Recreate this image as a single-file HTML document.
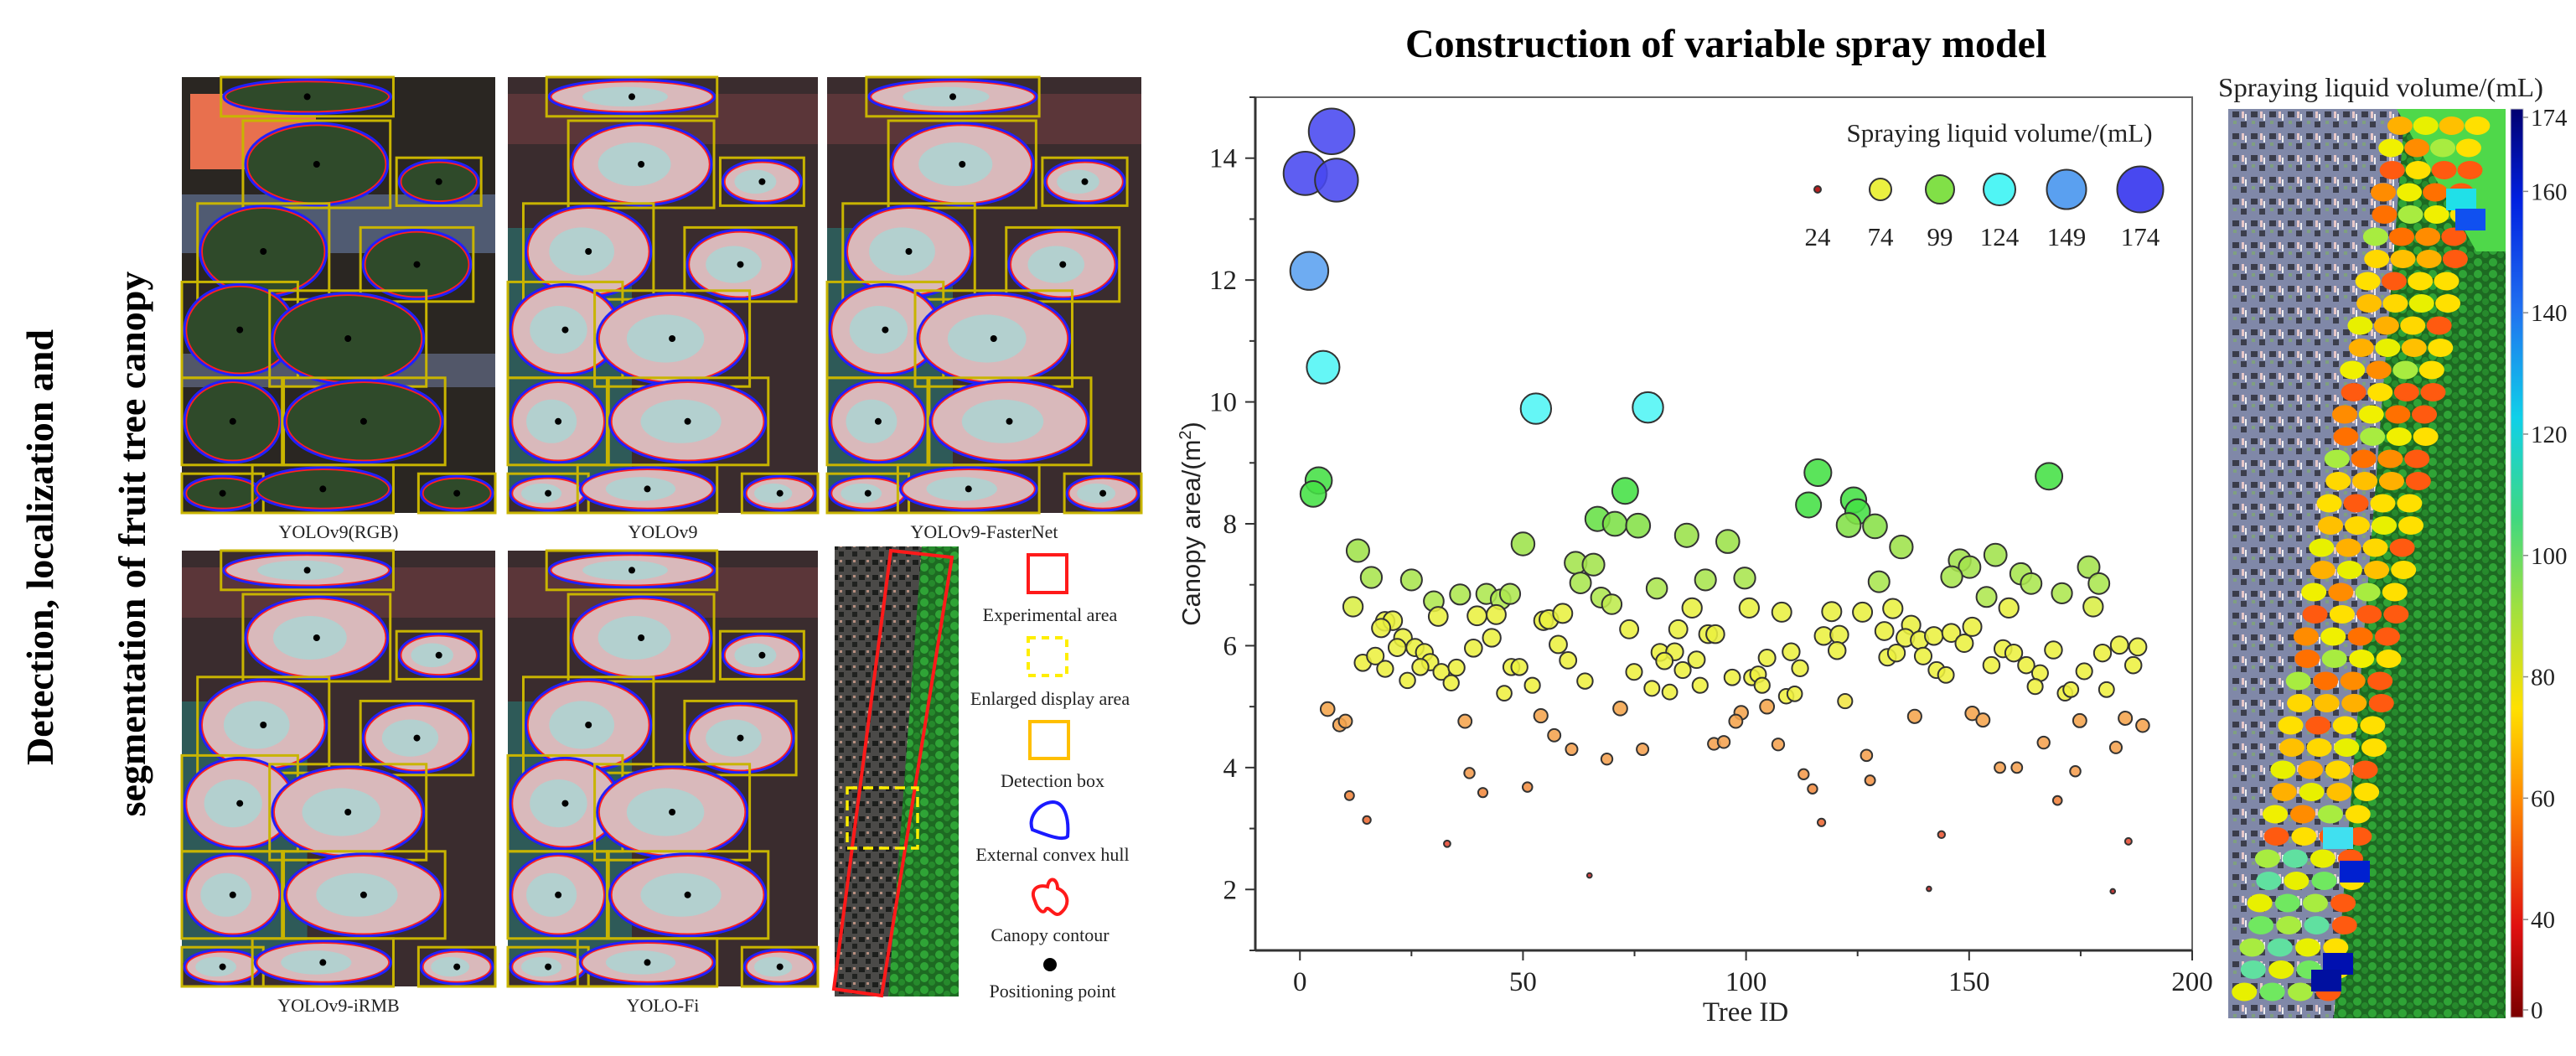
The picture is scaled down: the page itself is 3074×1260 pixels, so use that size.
<!DOCTYPE html>
<html><head><meta charset="utf-8">
<style>
html,body{margin:0;padding:0;background:#fff;}
svg{display:block;font-family:"Liberation Serif",serif;}
</style></head>
<body>
<svg id="fig" width="3074" height="1260" viewBox="0 0 3074 1260" xmlns="http://www.w3.org/2000/svg">
<defs>
<linearGradient id="cbar" x1="0" y1="1" x2="0" y2="0">
<stop offset="0" stop-color="#7a0000"/><stop offset="0.1" stop-color="#e01010"/><stop offset="0.24" stop-color="#ff8a00"/><stop offset="0.34" stop-color="#ffe000"/><stop offset="0.45" stop-color="#a0e040"/><stop offset="0.55" stop-color="#40d880"/><stop offset="0.66" stop-color="#10d0e8"/><stop offset="0.78" stop-color="#2070f0"/><stop offset="0.9" stop-color="#0020e0"/><stop offset="1" stop-color="#000070"/>
</linearGradient>
<pattern id="speck" width="22" height="26" patternUnits="userSpaceOnUse">
<rect width="22" height="26" fill="#8088a8"/><rect x="2" y="3" width="8" height="7" fill="#3a3c4a"/><rect x="12" y="15" width="7" height="7" fill="#3c3e4c"/><rect x="13" y="3" width="3" height="8" fill="#e8c8c8"/><rect x="3" y="14" width="4" height="4" fill="#7fa07f"/><rect x="17" y="6" width="2" height="8" fill="#f0f0f0"/>
</pattern>
<pattern id="speck2" width="16" height="18" patternUnits="userSpaceOnUse">
<rect width="16" height="18" fill="#4b4a48"/><rect x="1" y="2" width="7" height="6" fill="#1c1e1c"/><rect x="9" y="10" width="6" height="6" fill="#202220"/><rect x="10" y="2" width="3" height="3" fill="#b89080"/>
</pattern>
<pattern id="trees" width="18" height="14" patternUnits="userSpaceOnUse">
<rect width="18" height="14" fill="#1d6a22"/><circle cx="5" cy="5" r="5" fill="#2fa436"/><circle cx="14" cy="10" r="4" fill="#268a2c"/>
</pattern>
</defs>

<text transform="translate(63,653) rotate(-90)" text-anchor="middle" font-size="46" font-weight="bold">Detection, localization and</text>
<text transform="translate(173,649) rotate(-90)" text-anchor="middle" font-size="46" font-weight="bold">segmentation of fruit tree canopy</text>

<g id="panels"></g>

<g>
<rect x="996" y="652" width="148" height="537" fill="url(#speck2)"/>
<polygon points="1100,652 1144,652 1144,1189 1060,1189" fill="url(#trees)"/>
<polygon points="1063,657 1136,665 1052,1188 995,1180" fill="none" stroke="#ff1a1a" stroke-width="4"/>
<rect x="1011" y="940" width="84" height="72" fill="none" stroke="#ffee00" stroke-width="3.5" stroke-dasharray="12,7"/>
</g>

<g font-size="22" text-anchor="middle" fill="#222">
<rect x="1227" y="662" width="46" height="45" fill="none" stroke="#ff1a1a" stroke-width="4"/>
<text x="1253" y="741">Experimental area</text>
<rect x="1227" y="761" width="46" height="45" fill="none" stroke="#ffee00" stroke-width="4" stroke-dasharray="9,7"/>
<text x="1253" y="841">Enlarged display area</text>
<rect x="1229" y="861" width="46" height="44" fill="none" stroke="#ffbf00" stroke-width="4"/>
<text x="1256" y="939">Detection box</text>
<path d="M1232,990 C1226,975 1240,958 1256,957 C1270,957 1276,975 1274,998 C1268,1004 1248,996 1232,990 Z" fill="none" stroke="#1a1aff" stroke-width="4"/>
<text x="1256" y="1027">External convex hull</text>
<path d="M1235,1075 C1228,1060 1240,1055 1250,1058 C1252,1045 1262,1048 1262,1060 C1275,1065 1278,1080 1265,1090 C1258,1095 1252,1080 1248,1085 C1245,1092 1238,1085 1235,1075 Z" fill="none" stroke="#ff1a1a" stroke-width="4"/>
<text x="1253" y="1123">Canopy contour</text>
<circle cx="1253" cy="1151" r="8" fill="#000"/>
<text x="1256" y="1190">Positioning point</text>
</g>

<text x="1677" y="68" font-size="48" font-weight="bold">Construction of variable spray model</text>
<g id="chart"></g>

<g id="rightmap">
<rect x="2659" y="130" width="331" height="1085" fill="url(#speck)"/>
<polygon points="2870,130 2990,130 2990,1215 2785,1215" fill="url(#trees)"/>
<polygon points="2860,130 2990,130 2990,300 2955,300" fill="#4fd84a"/>
</g>
<text x="2647" y="115" font-size="32" fill="#222" textLength="388" lengthAdjust="spacingAndGlyphs">Spraying liquid volume/(mL)</text>
<rect x="2996" y="130" width="15" height="1084" fill="url(#cbar)" stroke="#ccc" stroke-width="1"/>
<g id="cbticks"></g>
</svg>

<script>
const treeId = [7.1,1.2,8.2,2.1,5.2,52.9,78,4.2,3.0,72.9,
66.7,70.6,75.8,86.7,95.9,50,13,61.8,65.8,16,25,62.9,80,90.9,99.7,30,35.9,41.8,45,47.1,67.5,69.9,
11.9,87.9,100.7,31,39.7,44,19.1,20.8,54.6,55.8,58.9,18.2,73.8,84.8,23.1,91.5,93.1,43,21.8,25.8,27.9,38.9,57.9,80.7,84,88.9,104.7,14.1,16.9,29.2,27,81.7,60.1,19.1,31.7,35.1,47.4,49.2,74.9,85.8,96.9,101.3,102.7,103.6,24.1,33.9,52.1,63.9,89.7,78.9,82.9,45.8,
6.2,71.8,104.7,8.9,10.2,37,54,98.9,97.7,57,60.9,76.8,68.8,92.8,95,38,41,51,11.1,15,33,64.9,
116.1,114.0,167.9,124.1,125,123,128.9,134.8,
147.9,150.1,146.1,155.9,161.6,163.9,176.8,179.1,129.8,153.9,170.8,
108,119.2,126.1,132.9,158.9,177.8,117.4,120.9,131,137,150.7,135.7,138.9,142.1,146,148.9,120.4,110.1,131.7,133.7,139.7,157.6,160,168.9,179.9,183.7,187.8,112.1,142.7,144.8,155,162.8,165.9,175.8,186.8,164.8,171.5,172.8,180.8,109,110.9,
122.2,137.8,150.7,153.1,174.8,185,188.9,107.2,166.7,127,182.9,112.9,114.9,127.8,156.9,160.7,173.8,
116.9,169.8,143.8,185.7,141,182.2];
const canopyArea = [14.44,13.75,13.64,12.15,10.57,9.89,9.91,8.71,8.49,8.54,
8.08,8.0,7.97,7.81,7.71,7.67,7.56,7.36,7.33,7.12,7.08,7.03,6.94,7.08,7.11,6.73,6.84,6.85,6.76,6.85,6.79,6.68,
6.64,6.62,6.62,6.48,6.49,6.51,6.40,6.41,6.41,6.43,6.53,6.29,6.27,6.27,6.13,6.19,6.19,6.13,5.97,5.97,5.89,5.96,6.02,5.89,5.90,5.77,5.8,5.72,5.83,5.73,5.65,5.75,5.76,5.62,5.57,5.64,5.65,5.65,5.57,5.60,5.48,5.48,5.53,5.35,5.43,5.39,5.35,5.42,5.35,5.30,5.24,5.22,
4.96,4.97,5.0,4.70,4.76,4.76,4.85,4.90,4.76,4.53,4.30,4.30,4.14,4.39,4.42,3.91,3.59,3.68,3.54,3.14,2.75,2.23,
8.84,8.31,8.78,8.39,8.2,7.98,7.96,7.62,
7.40,7.29,7.13,7.49,7.18,7.02,7.29,7.02,7.05,6.80,6.86,
6.55,6.56,6.55,6.61,6.62,6.64,6.16,6.18,6.24,6.34,6.31,6.13,6.09,6.16,6.21,6.04,5.92,5.90,5.81,5.88,5.83,5.95,5.88,5.93,5.88,6.01,5.98,5.63,5.60,5.52,5.68,5.68,5.55,5.58,5.68,5.33,5.22,5.28,5.28,5.17,5.21,
5.09,4.84,4.89,4.78,4.77,4.81,4.69,4.38,4.41,4.20,4.33,3.89,3.65,3.79,4.0,4.0,3.94,
3.10,3.46,2.90,2.79,2.01,1.97];
const xTicks = [0,50,100,150,200];
const yTicks = [2,4,6,8,10,12,14];
const legendVolumes = [24,74,99,124,149,174];
const legendLabels = ["24","74","99","124","149","174"];
const cbTickValues = [174,160,140,120,100,80,60,40,24];
const cbTickLabels = ["174","160","140","120","100","80","60","40","0"];

const NS="http://www.w3.org/2000/svg";
function mk(tag,attrs,parent){const e=document.createElementNS(NS,tag);for(const k in attrs)e.setAttribute(k,attrs[k]);parent.appendChild(e);return e;}

const PX0=1498,PX1=2616,PY0=116,PY1=1134;
const X=v=>PX0+(v+10)/210*(PX1-PX0);
const Y=v=>PY1-(v-1)/14*(PY1-PY0);
const stops=[[1.5,[150,16,16]],[2.5,[225,50,50]],[3.3,[240,120,50]],[4.0,[245,160,80]],[5.03,[245,165,75]],[5.1,[240,240,64]],[6.62,[232,240,64]],[6.7,[176,232,80]],[7.9,[152,224,72]],[8.2,[68,224,68]],[9.2,[68,224,68]],[9.5,[80,245,245]],[11,[80,245,245]],[11.6,[90,160,240]],[12.6,[90,160,240]],[13.2,[72,72,240]],[20,[72,72,240]]];
function colorFor(a){for(let i=0;i<stops.length-1;i++){const[s0,c0]=stops[i],[s1,c1]=stops[i+1];if(a<=s1){const t=Math.max(0,Math.min(1,(a-s0)/(s1-s0)));return 'rgb('+c0.map((c,j)=>Math.round(c+(c1[j]-c)*t)).join(',')+')';}}return 'rgb(72,72,240)';}
const radiusFor=a=>Math.max(2.8,2.0*a-1.6);
const volColor=v=>colorFor(v/12.4);
const volRadius=v=>({24:4,74:13,99:17,124:19,149:23.5,174:27.5})[v]||(3+(v-24)*0.163);

const chart=document.getElementById('chart');
const frame=mk('rect',{x:PX0,y:PY0,width:PX1-PX0,height:PY1-PY0,fill:'none',stroke:'#666','stroke-width':2},chart);


const yaxis=mk('line',{x1:PX0,y1:PY0,x2:PX0,y2:PY1,stroke:'#333','stroke-width':3},chart);


const xaxis=mk('line',{x1:PX0,y1:PY1,x2:PX1,y2:PY1,stroke:'#333','stroke-width':3},chart);


for(let v=1;v<=15;v++){const major=yTicks.includes(v);const t=mk('line',{x1:PX0,x2:PX0-(major?12:7),y1:Y(v),y2:Y(v),stroke:'#333','stroke-width':2},chart);

}
yTicks.forEach(v=>{const t=mk('text',{x:PX0-22,y:Y(v)+11,'text-anchor':'end','font-size':33,fill:'#222'},chart);t.textContent=v;

});
for(let v=0;v<=200;v+=25){const major=xTicks.includes(v);const t=mk('line',{x1:X(v),x2:X(v),y1:PY1,y2:PY1+(major?12:7),stroke:'#333','stroke-width':2},chart);

}
xTicks.forEach(v=>{const t=mk('text',{x:X(v),y:PY1+48,'text-anchor':'middle','font-size':33,fill:'#222'},chart);t.textContent=v;

});
const xt=mk('text',{x:2083,y:1218,'text-anchor':'middle','font-size':33,fill:'#222'},chart);xt.textContent='Tree ID';


const yt=mk('text',{transform:'translate(1432,625) rotate(-90)','text-anchor':'middle','font-size':31,fill:'#222','font-family':'Liberation Sans, sans-serif'},chart);
yt.innerHTML='Canopy area/(m<tspan baseline-shift="super" font-size="20">2</tspan>)';


treeId.forEach((id,i)=>{const a=canopyArea[i];const c=mk('circle',{cx:X(id),cy:Y(a),r:radiusFor(a),fill:colorFor(a),'fill-opacity':0.88,stroke:'#333','stroke-width':2},chart);

});
const lg=mk('g',{},chart);


const lt=mk('text',{x:2386,y:169,'text-anchor':'middle','font-size':31,fill:'#222'},lg);lt.textContent='Spraying liquid volume/(mL)';


const legX=[2169,2244,2315,2386,2466,2554];
legendVolumes.forEach((v,i)=>{const c=mk('circle',{cx:legX[i],cy:226,r:volRadius(v),fill:volColor(v),stroke:'#333','stroke-width':2},lg);


const t=mk('text',{x:legX[i],y:293,'text-anchor':'middle','font-size':31,fill:'#222'},lg);t.textContent=legendLabels[i];

});

const CY=v=>1213-(v-24)*7.24;
const cbg=document.getElementById('cbticks');
cbTickValues.forEach((v,i)=>{const y=Math.max(140,Math.min(1205,CY(v)));
const l=mk('line',{x1:3011,x2:3017,y1:y,y2:y,stroke:'#888','stroke-width':1.5},cbg);


const t=mk('text',{x:3020,y:y+10,'font-size':29,fill:'#222'},cbg);t.textContent=cbTickLabels[i];

});

const rm=document.getElementById('rightmap');
const pal=['#ffb000','#ff8c00','#ffd800','#e8f000','#ff5a10','#a8ec40','#ffc000','#f0f000','#ff7000','#ffe000'];
for(let r=0;r<40;r++){const y=150+r*26.5;const t=(y-130)/1085;const xl=2852-(2852-2662)*t,xr=2975-(2975-2796)*t;
for(let c=0;c<4;c++){const x=xl+(c+0.5)*(xr-xl)/4-(r%2)*6; if(x<2672) continue;
let col=pal[(r*7+c*3+(r*c)%5)%pal.length];
if(t>0.8&&c<3) col=['#70e860','#a8ec40','#60e0a0','#e8f000'][(r+c)%4];
const e=mk('ellipse',{cx:x,cy:y,rx:15,ry:11,fill:col},rm);

}}
[[2937,238,'#20e0e8'],[2948,262,'#1050f0'],[2790,1000,'#40e0f0'],[2810,1040,'#0020d0'],[2790,1150,'#0010b0'],[2776,1170,'#0010a0']].forEach(p=>{const e=mk('rect',{x:p[0]-18,y:p[1]-13,width:36,height:26,fill:p[2]},rm);

});

const panels=document.getElementById('panels');
const boxes=[[0.40,0.04,0.55,0.10],[0.43,0.20,0.47,0.20],[0.82,0.24,0.27,0.11],[0.26,0.40,0.42,0.22],[0.75,0.43,0.36,0.17],[0.18,0.58,0.38,0.22],[0.53,0.60,0.50,0.22],[0.15,0.79,0.35,0.20],[0.58,0.79,0.52,0.20],[0.12,0.96,0.28,0.10],[0.45,0.95,0.45,0.12],[0.88,0.96,0.25,0.10]];
function panel(x,y,w,h,rgb,label){
const g=mk('g',{},panels);


mk('rect',{x:x,y:y,width:w,height:h,fill:rgb?'#2a2622':'#3a2c2e'},g);
if(rgb){mk('rect',{x:x+10,y:y+20,width:150,height:90,fill:'#e8704e'},g);mk('rect',{x:x,y:y+140,width:w,height:70,fill:'#6a7ea8','opacity':0.6},g);mk('rect',{x:x,y:y+330,width:w,height:40,fill:'#7a88b0','opacity':0.5},g);}
else{mk('rect',{x:x,y:y+180,width:w*0.4,height:h*0.6,fill:'#2e5a58'},g);mk('rect',{x:x,y:y+20,width:w,height:60,fill:'#6a3a3e',opacity:0.7},g);}
boxes.forEach(b=>{const bw=b[2]*w,bh=b[3]*h,cx=x+b[0]*w,cy=y+b[1]*h;
const x0=Math.max(x,cx-bw/2),x1=Math.min(x+w,cx+bw/2),y0=Math.max(y,cy-bh/2),y1=Math.min(y+h,cy+bh/2);
mk('ellipse',{cx:(x0+x1)/2,cy:(y0+y1)/2,rx:(x1-x0)/2-4,ry:(y1-y0)/2-4,fill:rgb?'#2f4a2a':'#d9b9bb'},g);
if(!rgb) mk('ellipse',{cx:(x0+x1)/2-8,cy:(y0+y1)/2,rx:(x1-x0)/4,ry:(y1-y0)/4,fill:'#9ae0dc',opacity:0.6},g);
mk('ellipse',{cx:(x0+x1)/2,cy:(y0+y1)/2,rx:(x1-x0)/2-5,ry:(y1-y0)/2-5,fill:'none',stroke:'#ff2020','stroke-width':2.5},g);
mk('ellipse',{cx:(x0+x1)/2,cy:(y0+y1)/2,rx:(x1-x0)/2-3,ry:(y1-y0)/2-3,fill:'none',stroke:'#2020ff','stroke-width':3},g);
mk('rect',{x:x0,y:y0,width:x1-x0,height:y1-y0,fill:'none',stroke:'#c8b400','stroke-width':3},g);
if(y1-y0>40) mk('circle',{cx:(x0+x1)/2,cy:(y0+y1)/2,r:4,fill:'#000'},g);});
const t=mk('text',{x:x+w/2,y:y+h+30,'text-anchor':'middle','font-size':22,fill:'#222'},panels);t.textContent=label;

}
panel(217,92,374,520,true,'YOLOv9(RGB)');
panel(606,92,370,520,false,'YOLOv9');
panel(987,92,375,520,false,'YOLOv9-FasterNet');
panel(217,657,374,520,false,'YOLOv9-iRMB');
panel(606,657,370,520,false,'YOLO-Fi');
</script>
</body></html>
